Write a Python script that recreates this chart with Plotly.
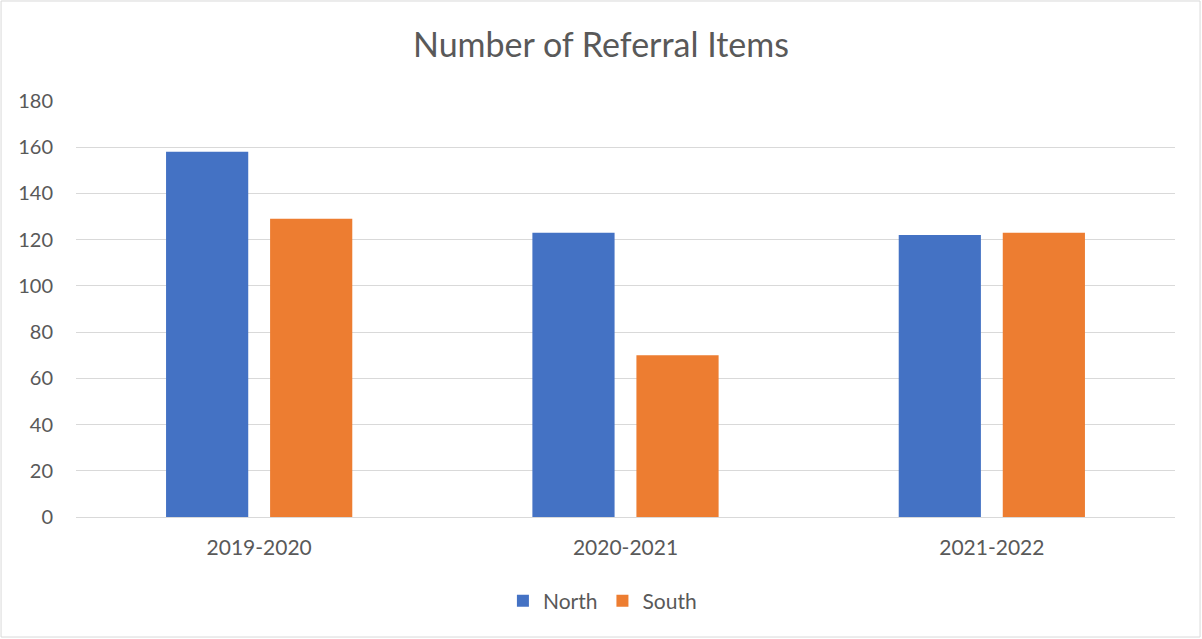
import plotly.graph_objects as go

years = ["2019-2020", "2020-2021", "2021-2022"]
north = [158, 123, 122]
south = [129, 70, 123]
y_ticks = [0, 20, 40, 60, 80, 100, 120, 140, 160, 180]

font_family = "Lato, Open Sans, sans-serif"
grey_text = "#595959"

fig = go.Figure()
fig.add_trace(go.Bar(x=years, y=north, name="North", marker_color="#4472C4",
                     marker_line_width=0))
fig.add_trace(go.Bar(x=years, y=south, name="South", marker_color="#ED7D31",
                     marker_line_width=0))

fig.update_layout(
    width=1202,
    height=639,
    margin=dict(l=76, r=27, t=101, b=122),
    paper_bgcolor="white",
    plot_bgcolor="white",
    barmode="group",
    bargap=0.432,
    bargroupgap=0.21,
    font=dict(family=font_family, color=grey_text),
    title=dict(text="Number of Referral Items", x=0.5, xanchor="center",
               y=0.93, yanchor="middle",
               font=dict(size=34, color=grey_text, family=font_family)),
    legend=dict(orientation="h", x=0.479, xanchor="center", y=-0.202, yanchor="middle",
                font=dict(size=21, color=grey_text), itemwidth=30,
                traceorder="normal"),
    xaxis=dict(showgrid=False, showline=False, zeroline=False,
               tickfont=dict(size=21, color=grey_text), ticks="",
               ticklabelstandoff=16),
    yaxis=dict(range=[0, 180], tickvals=y_ticks, showgrid=True, gridcolor="#d9d9d9",
               gridwidth=1, zeroline=True, zerolinecolor="#d9d9d9", zerolinewidth=1,
               tickfont=dict(size=20, color=grey_text), ticks="",
               ticklabelstandoff=22),
)

# light outer border of the chart
fig.add_shape(type="rect", xref="paper", yref="paper",
              x0=-0.0682, x1=1.0228, y0=-0.2885, y1=1.2404,
              line=dict(color="#d9d9d9", width=1), fillcolor="rgba(0,0,0,0)")

fig.write_html("out.html", config={"displayModeBar": False},
               post_script="document.body.style.margin='0';")
